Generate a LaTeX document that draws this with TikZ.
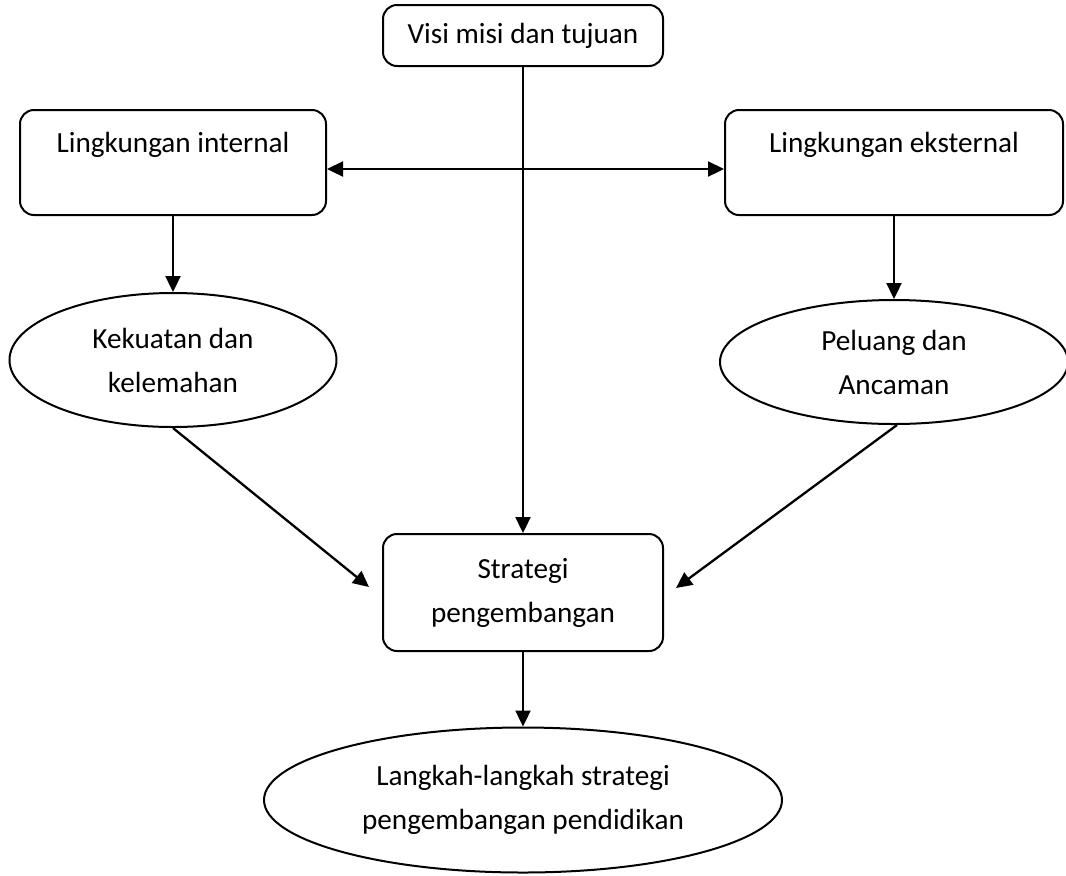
\documentclass[tikz,border=0pt]{standalone}
\usepackage{fontspec}
\setmainfont{Carlito}
\usetikzlibrary{shapes.geometric,arrows.meta}

\tikzset{
    kotak/.style={draw, rounded corners=7pt, inner sep=0pt, align=center, line width=1pt},
    elips/.style={draw, ellipse, inner sep=0pt, align=center, line width=1pt},
}

\begin{document}
\begin{tikzpicture}[x=0.5pt, y=-0.5pt, font=\fontsize{14.6}{22}\selectfont,
        >={Triangle[length=8pt,width=7.5pt]}, line width=1.15pt]
        \useasboundingbox (0,0) rectangle (1066,875);

        % kotak
        \node[kotak, minimum width=140pt, minimum height=30.5pt] (visi) at (523, 35.5) {Visi misi dan tujuan};
        \node[kotak, minimum width=153pt, text height=21pt, text depth=31.5pt] (intern) at (173, 162.5) {Lingkungan internal};
        \node[kotak, minimum width=169pt, text height=21pt, text depth=31.5pt] (ekstern) at (894, 162.5) {Lingkungan eksternal};
        \node[kotak, minimum width=140pt, minimum height=58.5pt] (strat) at (523, 592.5) {Strategi\\pengembangan};

        % elips
        \node[elips, minimum width=163.5pt, minimum height=67pt] (kek) at (173, 360) {Kekuatan dan\\kelemahan};
        \node[elips, minimum width=174pt, minimum height=62pt] (pel) at (894, 362) {Peluang dan\\Ancaman};
        \node[elips, minimum width=259pt, minimum height=72.5pt] (langkah) at (523, 800) {Langkah-langkah strategi\\pengembangan pendidikan};

        % panah
        \draw[<->] ([yshift=-3.25pt]intern.east) -- ([yshift=-3.25pt]ekstern.west);
        \draw[->] (visi) -- (strat);
        \draw[->] (intern) -- (kek);
        \draw[->] (ekstern) -- (pel);
        \draw[->] (kek.south) -- ([xshift=-6.5pt,yshift=2.75pt]strat.west);
        \draw[->] ([xshift=1.5pt]pel.south) -- ([xshift=6pt,yshift=2.25pt]strat.east);
        \draw[->] (strat) -- (langkah);
\end{tikzpicture}
\end{document}
